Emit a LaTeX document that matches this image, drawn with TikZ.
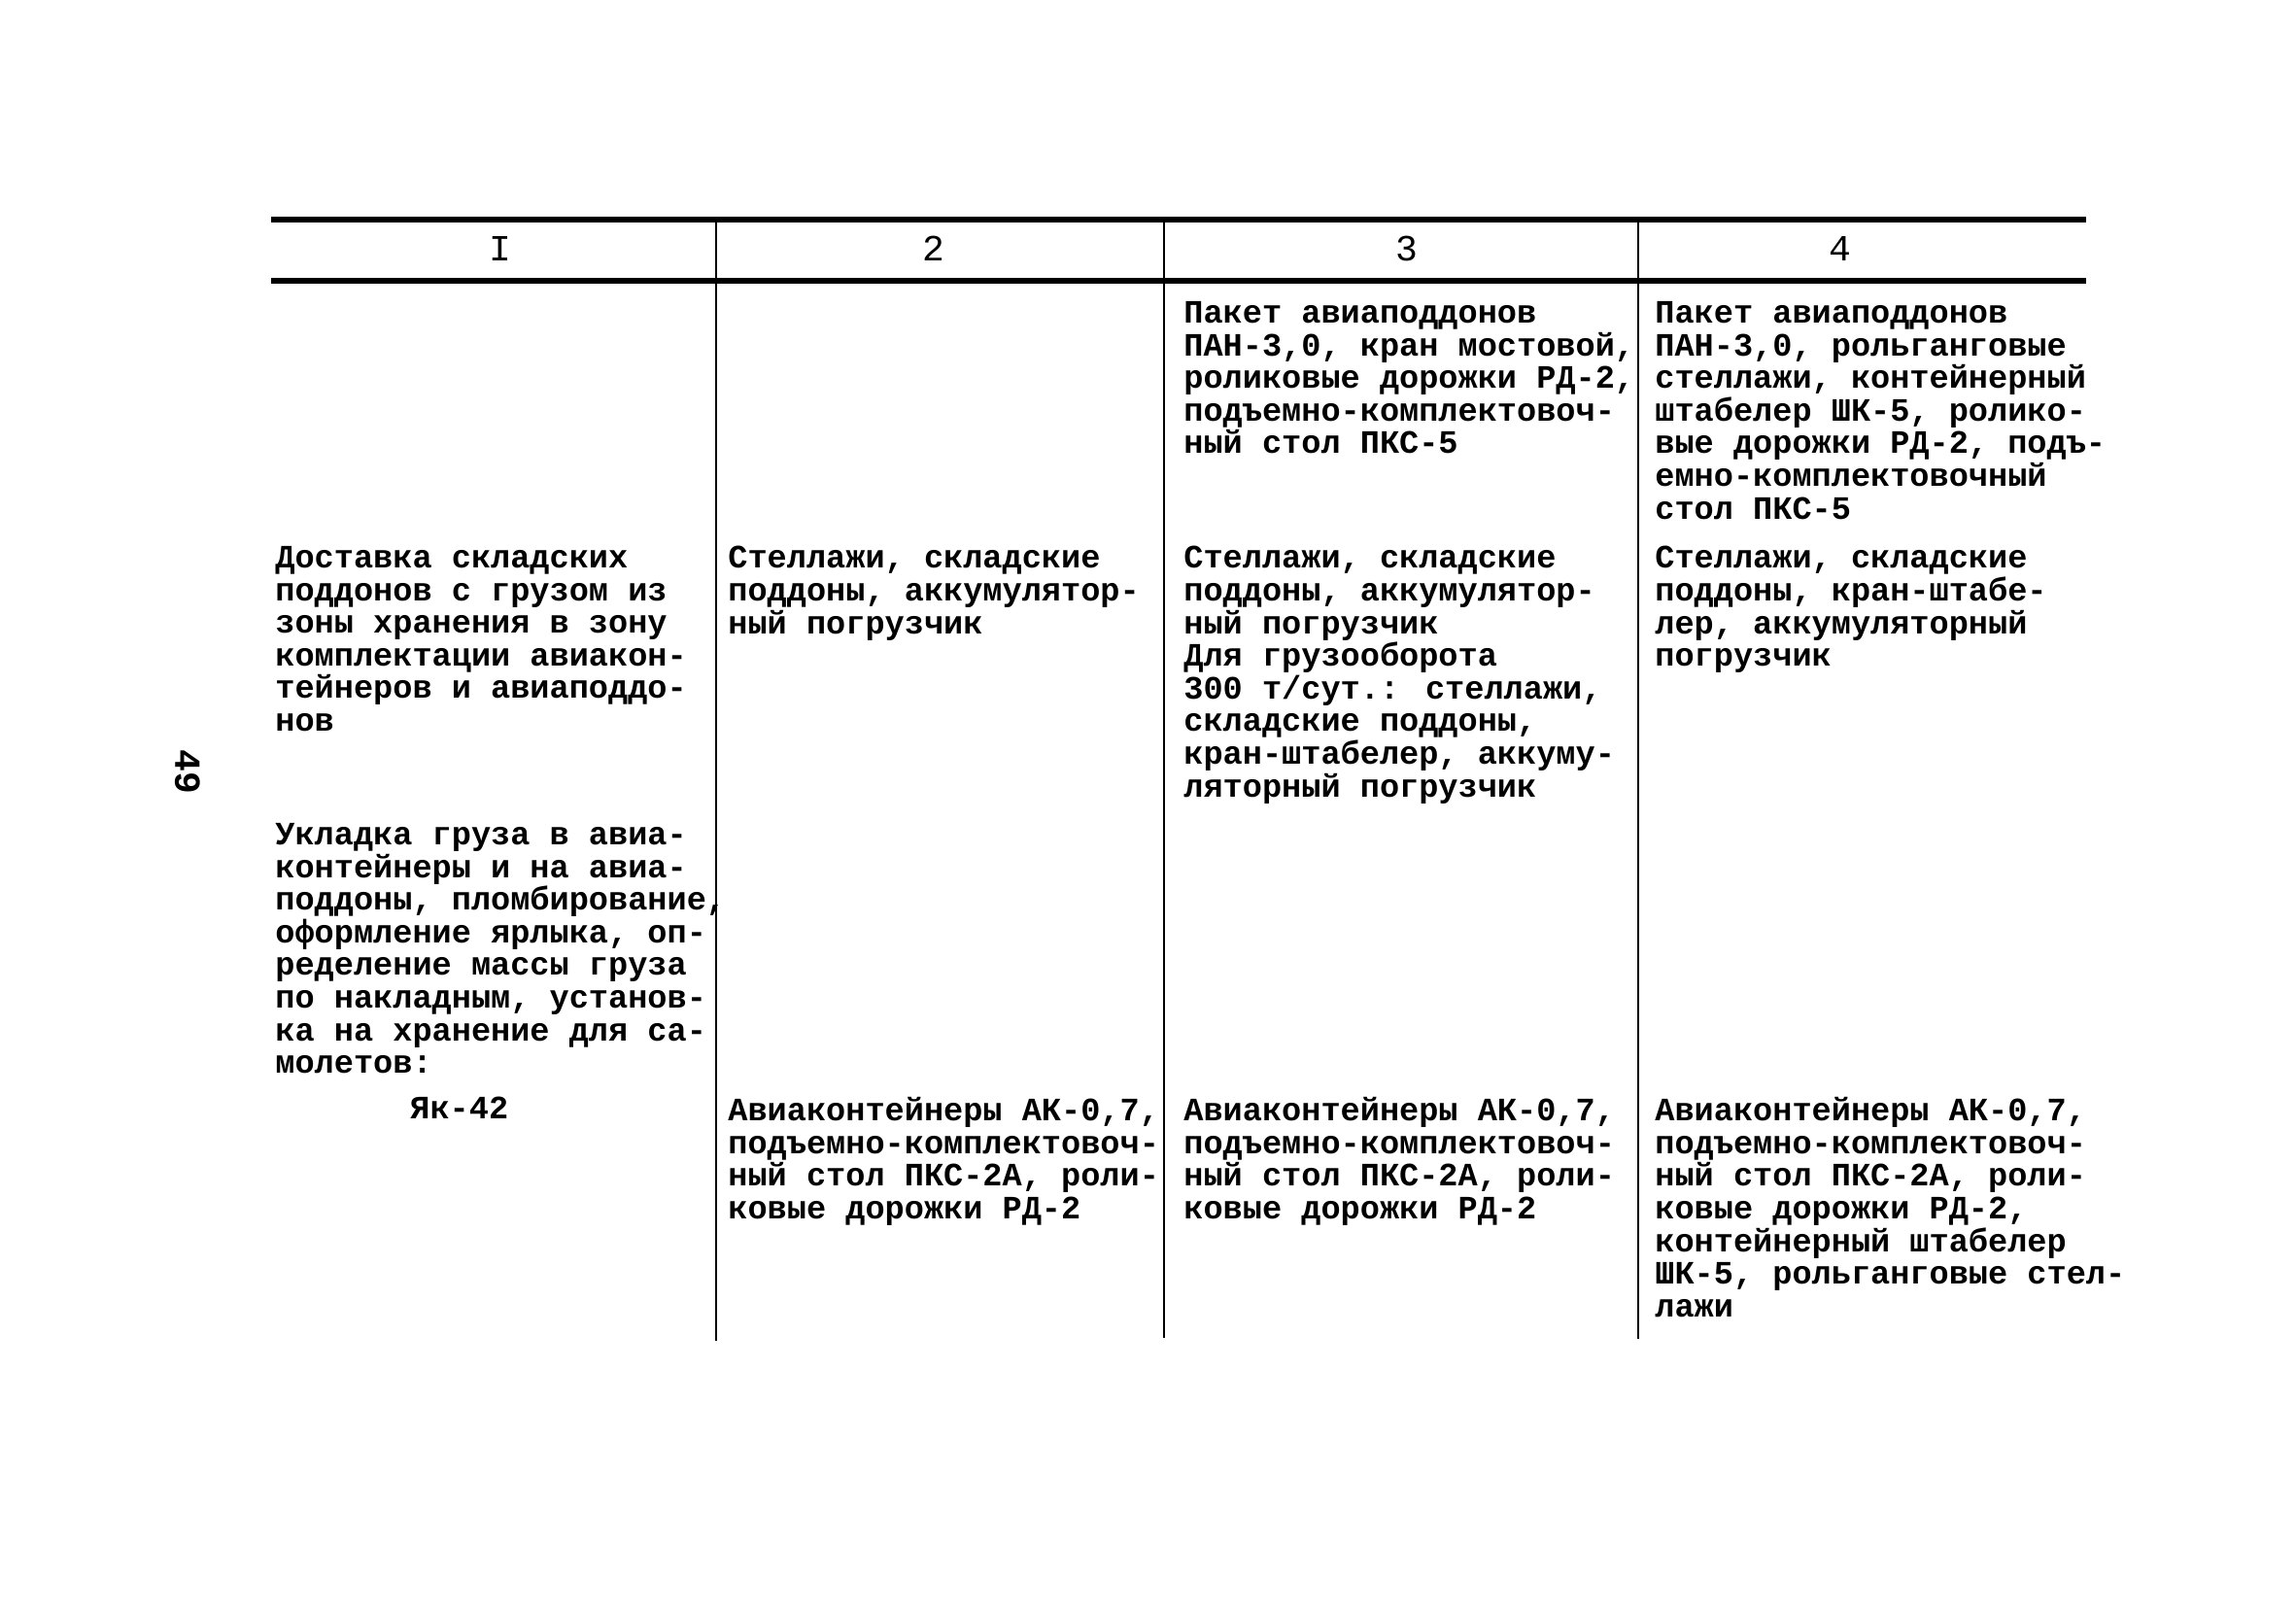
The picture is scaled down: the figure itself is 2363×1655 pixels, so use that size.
\documentclass[tikz,border=0pt]{standalone}
\usepackage{fontspec}
\newfontfamily\typewr{Liberation Mono}
\newcommand{\celltext}{\typewr\bfseries\fontsize{16.8}{16.8}\selectfont}
\newcommand{\headtext}{\typewr\fontsize{19}{19}\selectfont}
\begin{document}
\begin{tikzpicture}[x=0.5pt,y=-0.5pt,
  cell/.style={anchor=north west,inner sep=0pt,align=left,font=\celltext},
  head/.style={inner sep=0pt,font=\headtext},
  hrule/.style={line width=2.6pt},
  vrule/.style={line width=1.4pt}]
\useasboundingbox (0,0) rectangle (2363,1655);
% rules
\draw[hrule] (279,226) -- (2147,226);
\draw[hrule] (279,289) -- (2147,289);
\draw[vrule] (737,226) -- (737,1380);
\draw[vrule] (1198,226) -- (1198,1377);
\draw[vrule] (1686,226) -- (1686,1378);
% header
\node[head] (h1) at (515,256) {I};
\node[head] (h2) at (961,256) {2};
\node[head] (h3) at (1448,256) {3};
\node[head] (h4) at (1894,256) {4};
% page number
\node[head,font=\headtext\bfseries,rotate=-90] (pg) at (193,794) {49};
\begin{scope}[every node/.style={cell}]
% column 1
\node (c1a) at (283,562) {Доставка складских\\поддонов с грузом из\\зоны хранения в зону\\комплектации авиакон-\\тейнеров и авиаподдо-\\нов};
\node (c1b) at (283,847) {Укладка груза в авиа-\\контейнеры и на авиа-\\поддоны, пломбирование,\\оформление ярлыка, оп-\\ределение массы груза\\по накладным, установ-\\ка на хранение для са-\\молетов:};
\node (c1c) at (422,1129) {Як-42};
% column 2
\node (c2a) at (749,562) {Стеллажи, складские\\поддоны, аккумулятор-\\ный погрузчик};
\node (c2c) at (749,1129) {Авиаконтейнеры АК-0,7,\\подъемно-комплектовоч-\\ный стол ПКС-2А, роли-\\ковые дорожки РД-2};
% column 3
\node (c3t) at (1218,310) {Пакет авиаподдонов\\ПАН-3,0, кран мостовой,\\роликовые дорожки РД-2,\\подъемно-комплектовоч-\\ный стол ПКС-5};
\node (c3a) at (1218,562) {Стеллажи, складские\\поддоны, аккумулятор-\\ный погрузчик\\Для грузооборота\\300 т/сут.: стеллажи,\\складские поддоны,\\кран-штабелер, аккуму-\\ляторный погрузчик};
\node (c3c) at (1218,1129) {Авиаконтейнеры АК-0,7,\\подъемно-комплектовоч-\\ный стол ПКС-2А, роли-\\ковые дорожки РД-2};
% column 4
\node (c4t) at (1703,310) {Пакет авиаподдонов\\ПАН-3,0, рольганговые\\стеллажи, контейнерный\\штабелер ШК-5, ролико-\\вые дорожки РД-2, подъ-\\емно-комплектовочный\\стол ПКС-5};
\node (c4a) at (1703,562) {Стеллажи, складские\\поддоны, кран-штабе-\\лер, аккумуляторный\\погрузчик};
\node (c4c) at (1703,1129) {Авиаконтейнеры АК-0,7,\\подъемно-комплектовоч-\\ный стол ПКС-2А, роли-\\ковые дорожки РД-2,\\контейнерный штабелер\\ШК-5, рольганговые стел-\\лажи};
\end{scope}
\end{tikzpicture}
\end{document}
